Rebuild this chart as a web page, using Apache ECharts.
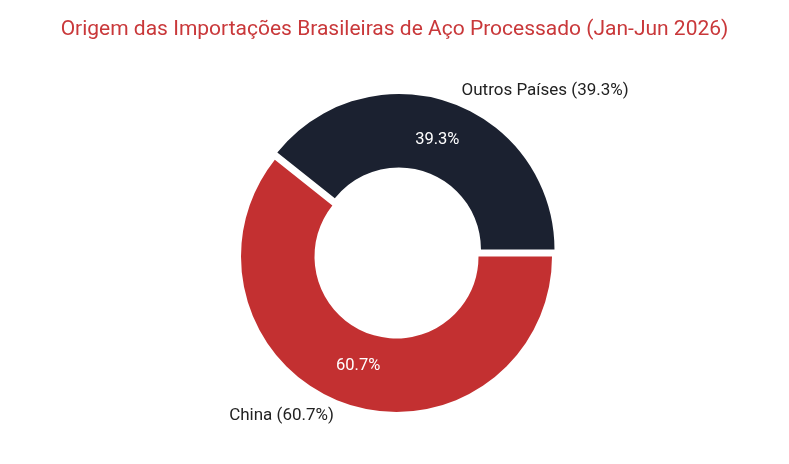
<!DOCTYPE html>
<html>
<head>
<meta charset="utf-8">
<script src="https://cdn.jsdelivr.net/npm/echarts@6/dist/echarts.min.js"></script>
<style>
html,body{margin:0;padding:0;background:#fff;}
#chart{width:789px;height:464px;}
</style>
</head>
<body>
<div id="chart"></div>
<script>
const titleText = 'Origem das Importações Brasileiras de Aço Processado (Jan-Jun 2026)';
const categories = ['China', 'Outros Países'];
const shares = [60.7, 39.3];
const colors = ['#c33031', '#1b2130'];
const selectedFlags = [false, true];

const makeData = (transparent) => categories.map((name, i) => ({
  name: name,
  value: shares[i],
  selected: selectedFlags[i],
  itemStyle: { color: transparent ? 'rgba(0,0,0,0)' : colors[i] }
}));

const FONT = 'Roboto, "Open Sans", sans-serif';
const chart = echarts.init(document.getElementById('chart'), null, { renderer: 'canvas' });
const common = {
  type: 'pie',
  center: [396.5, 256.5],
  startAngle: 0,
  clockwise: true,
  selectedMode: 'single',
  selectedOffset: 7.5,
  avoidLabelOverlap: false,
  animation: false,
  emphasis: { disabled: true }
};
chart.setOption({
  backgroundColor: '#ffffff',
  title: {
    text: titleText,
    left: 'center',
    top: 14,
    textStyle: { color: '#c9383a', fontSize: 21, fontWeight: 'normal', fontFamily: FONT }
  },
  series: [
    Object.assign({}, common, {
      radius: [82, 155.5],
      data: makeData(false),
      label: {
        show: true,
        position: 'outside',
        formatter: p => p.name + ' (' + p.value.toFixed(1) + '%)',
        color: '#222222',
        fontSize: 17,
        fontFamily: FONT
      },
      labelLine: { show: false, length: 13, length2: 2 }
    }),
    Object.assign({}, common, {
      radius: [71, 155.5],
      silent: true,
      data: makeData(true),
      label: {
        show: true,
        position: 'inside',
        formatter: p => p.value.toFixed(1) + '%',
        color: '#ffffff',
        fontSize: 16.5,
        fontFamily: FONT
      },
      labelLine: { show: false }
    })
  ]
});
</script>
</body>
</html>
